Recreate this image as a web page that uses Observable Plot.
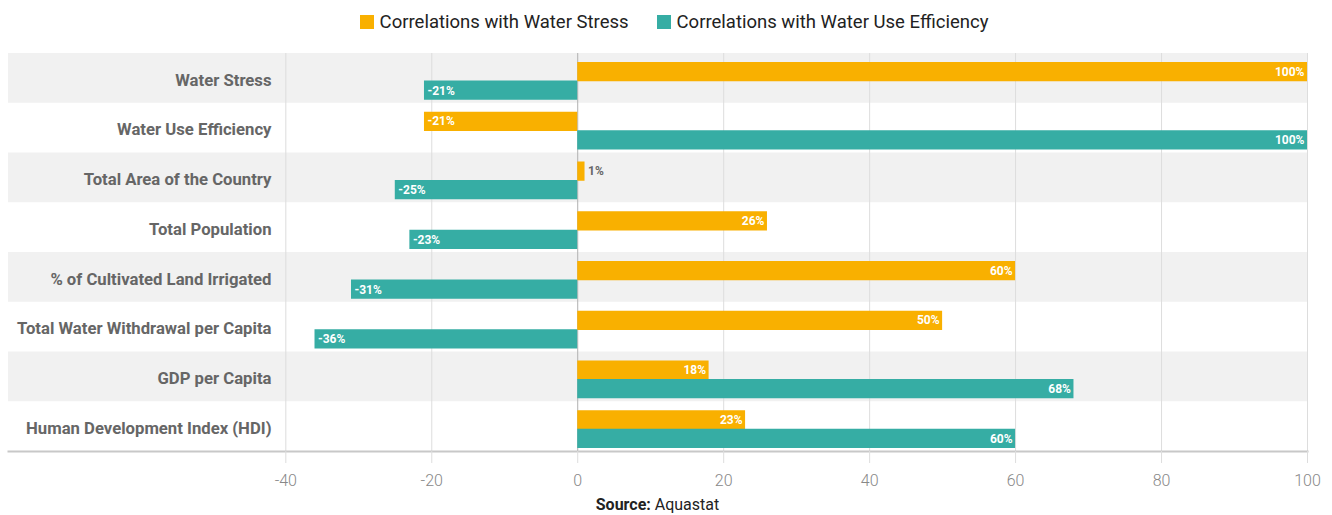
<!DOCTYPE html>
<html>
<head>
<meta charset="utf-8">
<script src="https://cdn.jsdelivr.net/npm/d3@7"></script>
<script src="https://cdn.jsdelivr.net/npm/@observablehq/plot@0.6"></script>
<style>
  body { margin: 0; background: #fff; font-family: Roboto, "Liberation Sans", sans-serif; }
  #legend { height: 43px; display: flex; justify-content: center; align-items: center; gap: 28px; font-size: 18.5px; color: #222; padding-left: 16px; box-sizing: border-box; width: 1332px; }
  .item { display: flex; align-items: center; gap: 6px; }
  .sw { width: 14px; height: 14px; display: inline-block; }
  #source { width: 1299px; margin-left: 8px; text-align: center; font-size: 16px; color: #222; line-height: 20px; }
</style>
</head>
<body>
<div id="legend"></div>
<div id="chart"></div>
<div id="source"><b>Source:</b> Aquastat</div>
<script>
const categories = [
  "Water Stress",
  "Water Use Efficiency",
  "Total Area of the Country",
  "Total Population",
  "% of Cultivated Land Irrigated",
  "Total Water Withdrawal per Capita",
  "GDP per Capita",
  "Human Development Index (HDI)"
];
const waterStress = [100, -21, 1, 26, 60, 50, 18, 23];
const waterUseEfficiency = [-21, 100, -25, -23, -31, -36, 68, 60];
const seriesNames = ["Correlations with Water Stress", "Correlations with Water Use Efficiency"];
const colors = ["#F9B000", "#36ADA4"];
const xTicks = [-40, -20, 0, 20, 40, 60, 80, 100];
const xDomain = [-78, 100];

const rows = categories.map((c, i) => ({category: c, ws: waterStress[i], wue: waterUseEfficiency[i]}));

// legend
const legend = document.getElementById("legend");
seriesNames.forEach((n, i) => {
  const it = document.createElement("div");
  it.className = "item";
  it.innerHTML = `<span class="sw" style="background:${colors[i]}"></span><span>${n}</span>`;
  legend.appendChild(it);
});

const fmt = v => `${v}%`;
function valueLabels(key, dy) {
  const common = {y: "category", x: key, text: d => fmt(d[key]), dy, fontSize: 12, fontWeight: 700};
  return [
    Plot.text(rows.filter(d => d[key] >= 5), {...common, textAnchor: "end", dx: -3, fill: "#fff"}),
    Plot.text(rows.filter(d => d[key] <= -5), {...common, textAnchor: "start", dx: 3, fill: "#fff"}),
    Plot.text(rows.filter(d => Math.abs(d[key]) < 5), {...common, textAnchor: "start", dx: 3, fill: "#666"})
  ];
}

const chart = Plot.plot({
  width: 1332,
  height: 452,
  marginTop: 10,
  marginBottom: 44,
  marginLeft: 8,
  marginRight: 25,
  style: {fontFamily: "Roboto, sans-serif", background: "transparent"},
  x: {domain: xDomain, axis: null},
  y: {domain: categories, axis: null, padding: 0, round: false},
  marks: [
    Plot.barX(categories.filter((d, i) => i % 2 === 0), {y: d => d, x1: xDomain[0], x2: xDomain[1], fill: "#f1f1f1"}),
    Plot.ruleX(xTicks.filter(t => t !== 0), {stroke: "#dddddd"}),
    Plot.ruleX([0], {stroke: "#b0b0b0"}),
    Plot.barX(rows, {y: "category", x: "ws", fill: colors[0], insetTop: 9, insetBottom: 21.5}),
    Plot.barX(rows, {y: "category", x: "wue", fill: colors[1], insetTop: 27.5, insetBottom: 3}),
    ...valueLabels("ws", -6.5),
    ...valueLabels("wue", 12.5),
    Plot.text(categories, {y: d => d, frameAnchor: "left", textAnchor: "end", dx: 263, dy: 2, fontSize: 16.7, fontWeight: 700, fill: "#666"}),
    Plot.frame({anchor: "bottom", stroke: "#c8c8c8", strokeWidth: 2}),
    Plot.axisX({ticks: xTicks, tickFormat: d => String(d), tickSize: 12, tickPadding: 11, stroke: "#dddddd", fill: "#888", fontSize: 16, fontWeight: 300})
  ]
});
document.getElementById("chart").appendChild(chart);
</script>
</body>
</html>
